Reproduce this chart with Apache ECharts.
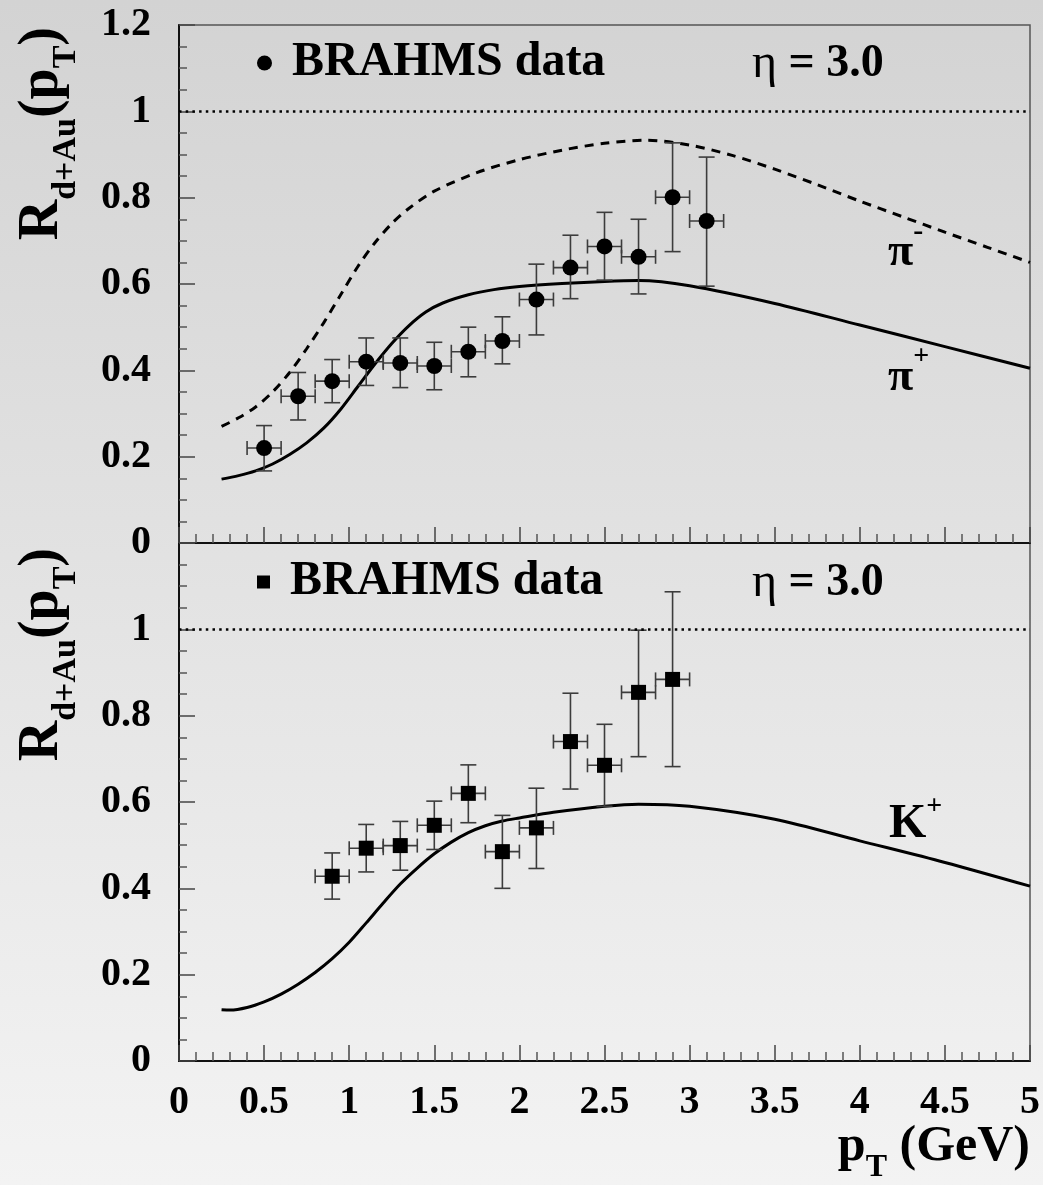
<!DOCTYPE html>
<html>
<head>
<meta charset="utf-8">
<title>BRAHMS R_dAu at eta = 3.0</title>
<script src="https://cdn.jsdelivr.net/npm/echarts@6/dist/echarts.min.js"></script>
<style>
  html, body { margin: 0; padding: 0; }
  #chart { width: 1043px; height: 1185px; }
</style>
</head>
<body>
<div id="chart"></div>
<script>
// ---- pion data (negative pions, eta = 3.0) ----
const pionPt    = [0.5, 0.7, 0.9, 1.1, 1.3, 1.5, 1.7, 1.9, 2.1, 2.3, 2.5, 2.7, 2.9, 3.1];
const pionR     = [0.220, 0.340, 0.375, 0.420, 0.417, 0.410, 0.443, 0.468, 0.564, 0.638, 0.687, 0.663, 0.801, 0.746];
const pionRLow  = [0.167, 0.285, 0.325, 0.365, 0.360, 0.355, 0.385, 0.415, 0.482, 0.566, 0.609, 0.577, 0.675, 0.595];
const pionRHigh = [0.272, 0.395, 0.425, 0.475, 0.475, 0.465, 0.500, 0.524, 0.646, 0.713, 0.766, 0.750, 0.927, 0.894];

// ---- kaon data (positive kaons, eta = 3.0) ----
const kaonPt    = [0.9, 1.1, 1.3, 1.5, 1.7, 1.9, 2.1, 2.3, 2.5, 2.7, 2.9];
const kaonR     = [0.428, 0.493, 0.499, 0.546, 0.620, 0.485, 0.540, 0.740, 0.685, 0.854, 0.884];
const kaonRLow  = [0.375, 0.438, 0.442, 0.490, 0.552, 0.400, 0.446, 0.630, 0.590, 0.705, 0.682];
const kaonRHigh = [0.482, 0.548, 0.555, 0.602, 0.686, 0.569, 0.632, 0.852, 0.780, 0.998, 1.087];

// half width of each pT bin
const ptHalfBin = 0.1;

// ---- model curves ----
const piMinusPt = [0.25, 0.35, 0.45, 0.55, 0.65, 0.75, 0.85, 0.95, 1.05, 1.15, 1.25, 1.35, 1.5, 1.75, 2.0, 2.25, 2.5, 2.75, 3.0, 3.25, 3.5, 3.75, 4.0, 4.25, 4.5, 4.75, 5.0];
const piMinusR  = [0.270, 0.290, 0.315, 0.350, 0.395, 0.450, 0.510, 0.575, 0.640, 0.695, 0.740, 0.775, 0.815, 0.858, 0.888, 0.910, 0.926, 0.933, 0.922, 0.898, 0.866, 0.830, 0.792, 0.756, 0.720, 0.685, 0.650];

const piPlusPt  = [0.25, 0.35, 0.45, 0.55, 0.65, 0.75, 0.85, 0.95, 1.05, 1.15, 1.25, 1.35, 1.45, 1.55, 1.7, 1.85, 2.0, 2.25, 2.5, 2.7, 3.0, 3.5, 4.0, 4.5, 5.0];
const piPlusR   = [0.148, 0.156, 0.167, 0.183, 0.205, 0.232, 0.266, 0.310, 0.362, 0.414, 0.462, 0.503, 0.535, 0.556, 0.575, 0.587, 0.594, 0.601, 0.606, 0.608, 0.596, 0.555, 0.505, 0.455, 0.405];

const kPlusPt   = [0.25, 0.3, 0.4, 0.5, 0.6, 0.7, 0.8, 0.9, 1.0, 1.1, 1.2, 1.3, 1.4, 1.5, 1.6, 1.7, 1.8, 1.9, 2.0, 2.2, 2.5, 2.7, 3.0, 3.5, 4.0, 4.5, 5.0];
const kPlusR    = [0.119, 0.118, 0.124, 0.137, 0.155, 0.178, 0.205, 0.237, 0.275, 0.320, 0.366, 0.410, 0.447, 0.480, 0.507, 0.529, 0.545, 0.556, 0.563, 0.576, 0.590, 0.595, 0.590, 0.560, 0.510, 0.460, 0.405];

// ---- axis ticks ----
const ptTicks = { min: 0, max: 5, step: 0.5, minorSplit: 5 };
const rTicks  = { min: 0, max: 1.2, step: 0.2, minorSplit: 4 };

const SERIF = '"Liberation Serif", "Times New Roman", serif';

const zip = (xs, ys) => xs.map((x, i) => [x, ys[i]]);
const errRows = (xs, ys, lo, hi) => xs.map((x, i) => [x, ys[i], lo[i], hi[i], ptHalfBin]);

function errorBars(params, api) {
  const x = api.value(0), y = api.value(1), lo = api.value(2), hi = api.value(3), dx = api.value(4);
  const top = api.coord([x, hi]);
  const bot = api.coord([x, lo]);
  const left = api.coord([x - dx, y]);
  const right = api.coord([x + dx, y]);
  const capV = 8, capH = 7;
  const style = { stroke: '#3c3c3c', lineWidth: 1.6, fill: null };
  const ln = (x1, y1, x2, y2) => ({ type: 'line', shape: { x1, y1, x2, y2 }, style });
  return {
    type: 'group',
    children: [
      ln(top[0], top[1], bot[0], bot[1]),
      ln(top[0] - capV, top[1], top[0] + capV, top[1]),
      ln(bot[0] - capV, bot[1], bot[0] + capV, bot[1]),
      ln(left[0], left[1], right[0], right[1]),
      ln(left[0], left[1] - capH, left[0], left[1] + capH),
      ln(right[0], right[1] - capH, right[0], right[1] + capH)
    ]
  };
}

function xAxisFor(gridIndex, showLabels) {
  return {
    type: 'value', gridIndex,
    min: ptTicks.min, max: ptTicks.max, interval: ptTicks.step,
    axisLine: { show: true, onZero: false, lineStyle: { color: '#111', width: 2 } },
    axisTick: { show: true, inside: true, length: 16, lineStyle: { color: '#444', width: 1.5 } },
    minorTick: { show: true, splitNumber: ptTicks.minorSplit, length: 9, lineStyle: { color: '#555', width: 1.5 } },
    splitLine: { show: false },
    axisLabel: {
      show: showLabels, margin: 22, color: '#000',
      fontFamily: SERIF, fontWeight: 'bold', fontSize: 40
    }
  };
}

function yAxisFor(gridIndex, showTop) {
  return {
    type: 'value', gridIndex,
    min: rTicks.min, max: rTicks.max, interval: rTicks.step,
    axisLine: { show: true, onZero: false, lineStyle: { color: '#111', width: 2 } },
    axisTick: { show: true, inside: true, length: 16, lineStyle: { color: '#444', width: 1.5 } },
    minorTick: { show: true, splitNumber: rTicks.minorSplit, length: 8, lineStyle: { color: '#555', width: 1.5 } },
    splitLine: { show: false },
    axisLabel: {
      margin: 28, color: '#000', showMaxLabel: showTop,
      fontFamily: SERIF, fontWeight: 'bold', fontSize: 40
    }
  };
}

const unityLine = {
  silent: true, symbol: 'none', label: { show: false },
  lineStyle: { color: '#000', width: 2.5, type: [2.5, 4.2] },
  data: [{ yAxis: 1 }]
};

// rich styles for the axis titles and annotations
const titleRich = {
  b: { fontFamily: SERIF, fontWeight: 'bold', fontSize: 56, verticalAlign: 'bottom', padding: [0, 0, 13, 0], color: '#000' },
  s: { fontFamily: SERIF, fontWeight: 'bold', fontSize: 34, verticalAlign: 'bottom', padding: [0, 0, 0, 0], color: '#000' }
};
const particleRich = (size, supSize, supLift) => ({
  b: { fontFamily: SERIF, fontWeight: 'bold', fontSize: size, verticalAlign: 'bottom', color: '#000' },
  u: { fontFamily: SERIF, fontWeight: 'bold', fontSize: supSize, verticalAlign: 'bottom', padding: [0, 0, supLift, 0], color: '#000' }
});

function yTitle(topY) {
  return {
    type: 'text', x: 49, y: topY, rotation: Math.PI / 2,
    style: {
      text: '{b|R}{s|d+Au}{b|(p}{s|T}{b|)}',
      rich: titleRich, align: 'right', verticalAlign: 'middle'
    }
  };
}

function etaLabel(y) {
  return {
    type: 'text', x: 752, y,
    style: {
      text: '{g|\u03b7}{b| = 3.0}', align: 'left', verticalAlign: 'middle',
      rich: {
        g: { fontFamily: SERIF, fontWeight: 'normal', fontSize: 48, color: '#000' },
        b: { fontFamily: SERIF, fontWeight: 'bold', fontSize: 46, color: '#000' }
      }
    }
  };
}

function legendFor(gridTop, icon, size) {
  return {
    show: true, selectedMode: false, orient: 'horizontal',
    left: 257, top: gridTop,
    itemWidth: size, itemHeight: size, padding: 0,
    data: [{ name: 'BRAHMS data', icon }],
    formatter: '{g|}{name}',
    textStyle: {
      color: '#000', fontFamily: SERIF, fontWeight: 'bold', fontSize: 48,
      rich: { g: { width: 15 } }
    }
  };
}

const chart = echarts.init(document.getElementById('chart'), null, { renderer: 'canvas' });

chart.setOption({
  animation: false,
  backgroundColor: {
    type: 'linear', x: 0, y: 0, x2: 0, y2: 1,
    colorStops: [{ offset: 0, color: '#d3d3d3' }, { offset: 1, color: '#f3f3f3' }]
  },
  grid: [
    { left: 179, top: 25, width: 851, height: 518, show: true, borderColor: '#555', borderWidth: 1.5, backgroundColor: 'transparent' },
    { left: 179, top: 543, width: 851, height: 518, show: true, borderColor: '#555', borderWidth: 1.5, backgroundColor: 'transparent' }
  ],
  legend: [legendFor(39, 'circle', 15), legendFor(558, 'rect', 13)],
  xAxis: [xAxisFor(0, false), xAxisFor(1, true)],
  yAxis: [yAxisFor(0, true), yAxisFor(1, false)],
  series: [
    {
      name: 'pi- model', type: 'line', xAxisIndex: 0, yAxisIndex: 0,
      data: zip(piMinusPt, piMinusR), smooth: 0.3, showSymbol: false, symbol: 'none',
      lineStyle: { color: '#000', width: 3, type: [9, 7] }, z: 2,
      markLine: unityLine
    },
    {
      name: 'pi+ model', type: 'line', xAxisIndex: 0, yAxisIndex: 0,
      data: zip(piPlusPt, piPlusR), smooth: 0.3, showSymbol: false, symbol: 'none',
      lineStyle: { color: '#000', width: 3 }, z: 2
    },
    {
      name: 'pion errors', type: 'custom', xAxisIndex: 0, yAxisIndex: 0,
      renderItem: errorBars, data: errRows(pionPt, pionR, pionRLow, pionRHigh), z: 3, silent: true
    },
    {
      name: 'BRAHMS data', type: 'scatter', xAxisIndex: 0, yAxisIndex: 0,
      data: zip(pionPt, pionR), symbol: 'circle', symbolSize: 16,
      itemStyle: { color: '#000', opacity: 1 }, z: 4
    },
    {
      name: 'K+ model', type: 'line', xAxisIndex: 1, yAxisIndex: 1,
      data: zip(kPlusPt, kPlusR), smooth: 0.3, showSymbol: false, symbol: 'none',
      lineStyle: { color: '#000', width: 3 }, z: 2,
      markLine: unityLine
    },
    {
      name: 'kaon errors', type: 'custom', xAxisIndex: 1, yAxisIndex: 1,
      renderItem: errorBars, data: errRows(kaonPt, kaonR, kaonRLow, kaonRHigh), z: 3, silent: true
    },
    {
      name: 'BRAHMS data', type: 'scatter', xAxisIndex: 1, yAxisIndex: 1,
      data: zip(kaonPt, kaonR), symbol: 'rect', symbolSize: 15,
      itemStyle: { color: '#000', opacity: 1 }, z: 4
    }
  ],
  graphic: [
    yTitle(27),
    yTitle(548),
    etaLabel(64),
    etaLabel(583),
    {
      type: 'text', x: 888, y: 276,
      style: { text: '{b|\u03c0}{u|-}', rich: particleRich(46, 30, 29), align: 'left', verticalAlign: 'bottom' }
    },
    {
      type: 'text', x: 888, y: 401,
      style: { text: '{b|\u03c0}{u|+}', rich: particleRich(46, 28, 30), align: 'left', verticalAlign: 'bottom' }
    },
    {
      type: 'text', x: 889, y: 849,
      style: { text: '{b|K}{u|+}', rich: particleRich(48, 28, 28), align: 'left', verticalAlign: 'bottom' }
    },
    {
      type: 'text', x: 1030, y: 1184,
      style: {
        text: '{b|p}{s|T}{b| (GeV)}', align: 'right', verticalAlign: 'bottom',
        rich: {
          b: { fontFamily: SERIF, fontWeight: 'bold', fontSize: 50, verticalAlign: 'bottom', padding: [0, 0, 12, 0], color: '#000' },
          s: { fontFamily: SERIF, fontWeight: 'bold', fontSize: 32, verticalAlign: 'bottom', color: '#000' }
        }
      }
    }
  ]
});
</script>
</body>
</html>
